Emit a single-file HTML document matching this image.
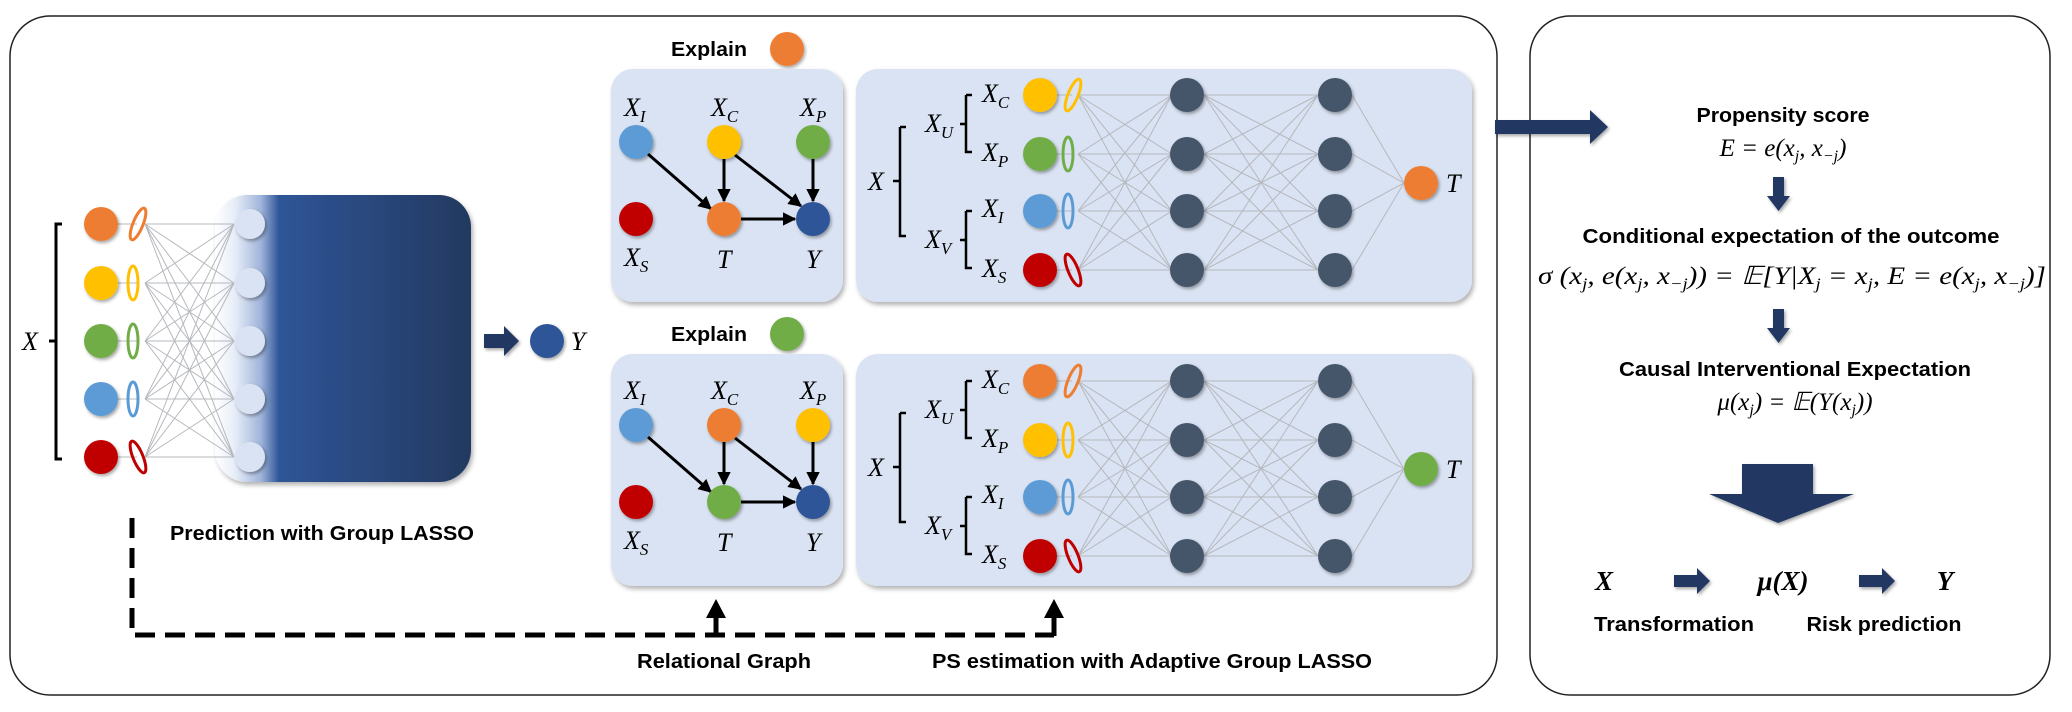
<!DOCTYPE html>
<html><head><meta charset="utf-8"><style>
html,body{margin:0;padding:0;background:#fff;width:2072px;height:712px;overflow:hidden}
svg{display:block}
.b{font-family:"Liberation Sans",sans-serif;font-weight:bold;fill:#000}
.m{font-family:"Liberation Serif",serif;font-style:italic;fill:#000}
.u{font-family:"Liberation Serif",serif;fill:#000}
</style></head><body>
<svg width="2072" height="712" viewBox="0 0 2072 712" xmlns="http://www.w3.org/2000/svg">
<defs>
<filter id="sh" x="-10%" y="-10%" width="120%" height="125%"><feDropShadow dx="2" dy="3" stdDeviation="2.5" flood-color="#000" flood-opacity="0.3"/></filter>
<filter id="cs" x="-30%" y="-30%" width="160%" height="160%"><feDropShadow dx="1.5" dy="2" stdDeviation="1.5" flood-color="#000" flood-opacity="0.35"/></filter>
<linearGradient id="bg" x1="215" y1="0" x2="471" y2="0" gradientUnits="userSpaceOnUse">
<stop offset="0" stop-color="#ffffff"/><stop offset="0.08" stop-color="#e6ecf7"/><stop offset="0.18" stop-color="#9fb4da"/><stop offset="0.25" stop-color="#2f5597"/><stop offset="1" stop-color="#23395f"/>
</linearGradient>
<marker id="ah" viewBox="0 0 10 10" refX="9" refY="5" markerWidth="4.5" markerHeight="4.5" orient="auto"><path d="M0 0L10 5L0 10z" fill="#000"/></marker>
<g id="m4"><path d="M0 0L92 0M0 0L92 59M0 0L92 116M0 0L92 175M0 59L92 0M0 59L92 59M0 59L92 116M0 59L92 175M0 116L92 0M0 116L92 59M0 116L92 116M0 116L92 175M0 175L92 0M0 175L92 59M0 175L92 116M0 175L92 175" stroke="#b5b8bd" stroke-width="1" fill="none" vector-effect="non-scaling-stroke"/></g>
</defs>

<rect x="10" y="16" width="1487" height="679" rx="40" fill="none" stroke="#222" stroke-width="1.5"/>
<rect x="1530" y="16" width="520" height="679" rx="40" fill="none" stroke="#222" stroke-width="1.5"/>

<text x="30" y="350" class="m" font-size="26" text-anchor="middle">X</text>
<path d="M62 224H56V459H62M56 341H49" stroke="#000" stroke-width="3" fill="none"/>
<rect x="215" y="195" width="256" height="287" rx="32" fill="url(#bg)" filter="url(#sh)"/>
<path d="M145 224L234 224M145 224L234 283M145 224L234 341M145 224L234 399M145 224L234 457M145 283L234 224M145 283L234 283M145 283L234 341M145 283L234 399M145 283L234 457M145 341L234 224M145 341L234 283M145 341L234 341M145 341L234 399M145 341L234 457M145 399L234 224M145 399L234 283M145 399L234 341M145 399L234 399M145 399L234 457M145 457L234 224M145 457L234 283M145 457L234 341M145 457L234 399M145 457L234 457M118 224H137M118 283H137M118 341H137M118 399H137M118 457H137" stroke="#b5b8bd" stroke-width="1" fill="none"/>
<g filter="url(#cs)">
<circle cx="101" cy="224" r="17" fill="#ED7D31"/><circle cx="101" cy="283" r="17" fill="#FFC000"/><circle cx="101" cy="341" r="17" fill="#70AD47"/><circle cx="101" cy="399" r="17" fill="#5B9BD5"/><circle cx="101" cy="457" r="17" fill="#C00000"/>
<circle cx="250" cy="224" r="15" fill="#dae3f3"/><circle cx="250" cy="283" r="15" fill="#dae3f3"/><circle cx="250" cy="341" r="15" fill="#dae3f3"/><circle cx="250" cy="399" r="15" fill="#dae3f3"/><circle cx="250" cy="457" r="15" fill="#dae3f3"/>
</g>
<g fill="none" stroke-width="3">
<ellipse cx="138" cy="224" rx="5" ry="17" stroke="#ED7D31" transform="rotate(22 138 224)"/>
<ellipse cx="133" cy="283" rx="5" ry="17" stroke="#FFC000"/>
<ellipse cx="133" cy="341" rx="5" ry="17" stroke="#70AD47"/>
<ellipse cx="133" cy="399" rx="5" ry="17" stroke="#5B9BD5"/>
<ellipse cx="138" cy="457" rx="5" ry="17" stroke="#C00000" transform="rotate(-22 138 457)"/>
</g>
<path d="M484 334H504V326L519 341L504 356V348H484Z" fill="#203864" filter="url(#cs)"/>
<circle cx="547" cy="341" r="17" fill="#2F5597" filter="url(#cs)"/>
<text x="578" y="350" class="m" font-size="26" text-anchor="middle">Y</text>
<text x="170" y="540" class="b" font-size="20" textLength="304" lengthAdjust="spacingAndGlyphs">Prediction with Group LASSO</text>

<path d="M132 518V635H1054" stroke="#000" stroke-width="5" stroke-dasharray="20 10" fill="none"/>
<path d="M716 636V614M1054 636V614" stroke="#000" stroke-width="5"/>
<path d="M706 618L726 618L716 599Z M1044 618L1064 618L1054 599Z" fill="#000"/>
<text x="724" y="668" class="b" font-size="20" text-anchor="middle" textLength="174" lengthAdjust="spacingAndGlyphs">Relational Graph</text>
<text x="932" y="668" class="b" font-size="20" textLength="440" lengthAdjust="spacingAndGlyphs">PS estimation with Adaptive Group LASSO</text>

<text x="671" y="56" class="b" font-size="20" textLength="76" lengthAdjust="spacingAndGlyphs">Explain</text>
<circle cx="787" cy="49" r="17" fill="#ED7D31" filter="url(#cs)"/>
<text x="671" y="341" class="b" font-size="20" textLength="76" lengthAdjust="spacingAndGlyphs">Explain</text>
<circle cx="787" cy="334" r="17" fill="#70AD47" filter="url(#cs)"/>

<rect x="611" y="69" width="232" height="233" rx="22" fill="#dae3f3" filter="url(#sh)"/>
<rect x="856" y="69" width="616" height="233" rx="22" fill="#dae3f3" filter="url(#sh)"/>
<rect x="611" y="354" width="232" height="232" rx="22" fill="#dae3f3" filter="url(#sh)"/>
<rect x="856" y="354" width="616" height="232" rx="22" fill="#dae3f3" filter="url(#sh)"/>

<g id="g1">
<g stroke="#000" stroke-width="3" marker-end="url(#ah)">
<line x1="648" y1="154" x2="711" y2="209"/>
<line x1="724" y1="159" x2="724" y2="201"/>
<line x1="735" y1="155" x2="801" y2="206"/>
<line x1="813" y1="159" x2="813" y2="201"/>
<line x1="741" y1="219" x2="795" y2="219"/>
</g>
</g>
<g filter="url(#cs)">
<circle cx="636" cy="142" r="17" fill="#5B9BD5"/><circle cx="724" cy="142" r="17" fill="#FFC000"/><circle cx="813" cy="142" r="17" fill="#70AD47"/>
<circle cx="636" cy="219" r="17" fill="#C00000"/><circle cx="724" cy="219" r="17" fill="#ED7D31"/><circle cx="813" cy="219" r="17" fill="#2F5597"/>
</g>
<text x="624" y="116" class="m" font-size="26">X<tspan font-size="17" dy="6">I</tspan></text>
<text x="711" y="116" class="m" font-size="26">X<tspan font-size="17" dy="6">C</tspan></text>
<text x="800" y="116" class="m" font-size="26">X<tspan font-size="17" dy="6">P</tspan></text>
<text x="624" y="266" class="m" font-size="26">X<tspan font-size="17" dy="6">S</tspan></text>
<text x="717" y="268" class="m" font-size="26">T</text>
<text x="806" y="268" class="m" font-size="26">Y</text>

<use href="#g1" transform="translate(0,283)"/>
<g filter="url(#cs)">
<circle cx="636" cy="425" r="17" fill="#5B9BD5"/><circle cx="724" cy="425" r="17" fill="#ED7D31"/><circle cx="813" cy="425" r="17" fill="#FFC000"/>
<circle cx="636" cy="502" r="17" fill="#C00000"/><circle cx="724" cy="502" r="17" fill="#70AD47"/><circle cx="813" cy="502" r="17" fill="#2F5597"/>
</g>
<text x="624" y="399" class="m" font-size="26">X<tspan font-size="17" dy="6">I</tspan></text>
<text x="711" y="399" class="m" font-size="26">X<tspan font-size="17" dy="6">C</tspan></text>
<text x="800" y="399" class="m" font-size="26">X<tspan font-size="17" dy="6">P</tspan></text>
<text x="624" y="549" class="m" font-size="26">X<tspan font-size="17" dy="6">S</tspan></text>
<text x="717" y="551" class="m" font-size="26">T</text>
<text x="806" y="551" class="m" font-size="26">Y</text>

<g id="n1">
<use href="#m4" transform="translate(1078,95) scale(1.02,1)"/>
<use href="#m4" transform="translate(1204,95) scale(1.24,1)"/>
<path d="M1352 95L1404 183M1352 154L1404 183M1352 211L1404 183M1352 270L1404 183M1050 95H1072M1050 154H1072M1050 211H1072M1050 270H1072" stroke="#b5b8bd" stroke-width="1" fill="none"/>
<g filter="url(#cs)" fill="#44546a">
<circle cx="1187" cy="95" r="17"/><circle cx="1187" cy="154" r="17"/><circle cx="1187" cy="211" r="17"/><circle cx="1187" cy="270" r="17"/>
<circle cx="1335" cy="95" r="17"/><circle cx="1335" cy="154" r="17"/><circle cx="1335" cy="211" r="17"/><circle cx="1335" cy="270" r="17"/>
</g>
<path d="M900 127H906M900 127V236H906M900 181H893M966 95H972M966 95V152H972M966 124H960M966 211H972M966 211V268H972M966 240H960" stroke="#000" stroke-width="2.5" fill="none"/>
<text x="868" y="190" class="m" font-size="26">X</text>
</g>
<use href="#n1" transform="translate(0,286)"/>

<text x="925" y="132" class="m" font-size="26">X<tspan font-size="17" dy="6">U</tspan></text>
<text x="982" y="102" class="m" font-size="26">X<tspan font-size="17" dy="6">C</tspan></text>
<text x="982" y="161" class="m" font-size="26">X<tspan font-size="17" dy="6">P</tspan></text>
<text x="925" y="248" class="m" font-size="26">X<tspan font-size="17" dy="6">V</tspan></text>
<text x="982" y="217" class="m" font-size="26">X<tspan font-size="17" dy="6">I</tspan></text>
<text x="982" y="277" class="m" font-size="26">X<tspan font-size="17" dy="6">S</tspan></text>

<text x="925" y="418" class="m" font-size="26">X<tspan font-size="17" dy="6">U</tspan></text>
<text x="982" y="388" class="m" font-size="26">X<tspan font-size="17" dy="6">C</tspan></text>
<text x="982" y="447" class="m" font-size="26">X<tspan font-size="17" dy="6">P</tspan></text>
<text x="925" y="534" class="m" font-size="26">X<tspan font-size="17" dy="6">V</tspan></text>
<text x="982" y="503" class="m" font-size="26">X<tspan font-size="17" dy="6">I</tspan></text>
<text x="982" y="563" class="m" font-size="26">X<tspan font-size="17" dy="6">S</tspan></text>

<g filter="url(#cs)">
<circle cx="1040" cy="95" r="17" fill="#FFC000"/><circle cx="1040" cy="154" r="17" fill="#70AD47"/><circle cx="1040" cy="211" r="17" fill="#5B9BD5"/><circle cx="1040" cy="270" r="17" fill="#C00000"/>
<circle cx="1421" cy="183" r="17" fill="#ED7D31"/>
<circle cx="1040" cy="381" r="17" fill="#ED7D31"/><circle cx="1040" cy="440" r="17" fill="#FFC000"/><circle cx="1040" cy="497" r="17" fill="#5B9BD5"/><circle cx="1040" cy="556" r="17" fill="#C00000"/>
<circle cx="1421" cy="469" r="17" fill="#70AD47"/>
</g>
<g fill="none" stroke-width="3">
<ellipse cx="1073" cy="95" rx="5" ry="17" stroke="#FFC000" transform="rotate(22 1073 95)"/>
<ellipse cx="1068" cy="154" rx="5" ry="17" stroke="#70AD47"/>
<ellipse cx="1068" cy="211" rx="5" ry="17" stroke="#5B9BD5"/>
<ellipse cx="1073" cy="270" rx="5" ry="17" stroke="#C00000" transform="rotate(-22 1073 270)"/>
<ellipse cx="1073" cy="381" rx="5" ry="17" stroke="#ED7D31" transform="rotate(22 1073 381)"/>
<ellipse cx="1068" cy="440" rx="5" ry="17" stroke="#FFC000"/>
<ellipse cx="1068" cy="497" rx="5" ry="17" stroke="#5B9BD5"/>
<ellipse cx="1073" cy="556" rx="5" ry="17" stroke="#C00000" transform="rotate(-22 1073 556)"/>
</g>
<text x="1446" y="192" class="m" font-size="26">T</text>
<text x="1446" y="478" class="m" font-size="26">T</text>

<path d="M1495 120H1590V110L1608 127L1590 144V134H1495Z" fill="#203864" filter="url(#cs)"/>
<text x="1783" y="122" class="b" font-size="20" text-anchor="middle" textLength="173" lengthAdjust="spacingAndGlyphs">Propensity score</text>
<text x="1783" y="156" class="m" font-size="25" text-anchor="middle">E <tspan class="u">=</tspan> e(x<tspan font-size="16" dy="5">j</tspan><tspan dy="-5">, x</tspan><tspan font-size="16" dy="5">−j</tspan><tspan dy="-5">)</tspan></text>
<path d="M1773 177H1784V196H1790L1778.5 211L1767 196H1773Z" fill="#203864" filter="url(#cs)"/>
<text x="1791" y="243" class="b" font-size="20" text-anchor="middle" textLength="417" lengthAdjust="spacingAndGlyphs">Conditional expectation of the outcome</text>
<text x="1538" y="284" class="m" font-size="25" textLength="508" lengthAdjust="spacingAndGlyphs">σ (x<tspan font-size="16" dy="5">j</tspan><tspan dy="-5">, e(x</tspan><tspan font-size="16" dy="5">j</tspan><tspan dy="-5">, x</tspan><tspan font-size="16" dy="5">−j</tspan><tspan dy="-5">)) = 𝔼[Y|X</tspan><tspan font-size="16" dy="5">j</tspan><tspan dy="-5"> = x</tspan><tspan font-size="16" dy="5">j</tspan><tspan dy="-5">, E = e(x</tspan><tspan font-size="16" dy="5">j</tspan><tspan dy="-5">, x</tspan><tspan font-size="16" dy="5">−j</tspan><tspan dy="-5">)]</tspan></text>
<path d="M1773 309H1784V328H1790L1778.5 343L1767 328H1773Z" fill="#203864" filter="url(#cs)"/>
<text x="1795" y="376" class="b" font-size="20" text-anchor="middle" textLength="352" lengthAdjust="spacingAndGlyphs">Causal Interventional Expectation</text>
<text x="1795" y="410" class="m" font-size="25" text-anchor="middle">μ(x<tspan font-size="16" dy="5">j</tspan><tspan dy="-5">) = 𝔼(Y(x</tspan><tspan font-size="16" dy="5">j</tspan><tspan dy="-5">))</tspan></text>
<path d="M1742 464H1813V494H1854L1778 523L1709 494H1742Z" fill="#203864" filter="url(#cs)"/>
<text x="1604" y="590" class="m" font-size="27" font-weight="bold" text-anchor="middle">X</text>
<path d="M1674 575H1697V568L1710 581L1697 594V587H1674Z" fill="#203864" filter="url(#cs)"/>
<text x="1783" y="590" class="m" font-size="27" font-weight="bold" text-anchor="middle">μ(X)</text>
<path d="M1859 575H1882V568L1895 581L1882 594V587H1859Z" fill="#203864" filter="url(#cs)"/>
<text x="1945" y="590" class="m" font-size="27" font-weight="bold" text-anchor="middle">Y</text>
<text x="1674" y="631" class="b" font-size="20" text-anchor="middle" textLength="160" lengthAdjust="spacingAndGlyphs">Transformation</text>
<text x="1884" y="631" class="b" font-size="20" text-anchor="middle" textLength="155" lengthAdjust="spacingAndGlyphs">Risk prediction</text>
</svg>
</body></html>
